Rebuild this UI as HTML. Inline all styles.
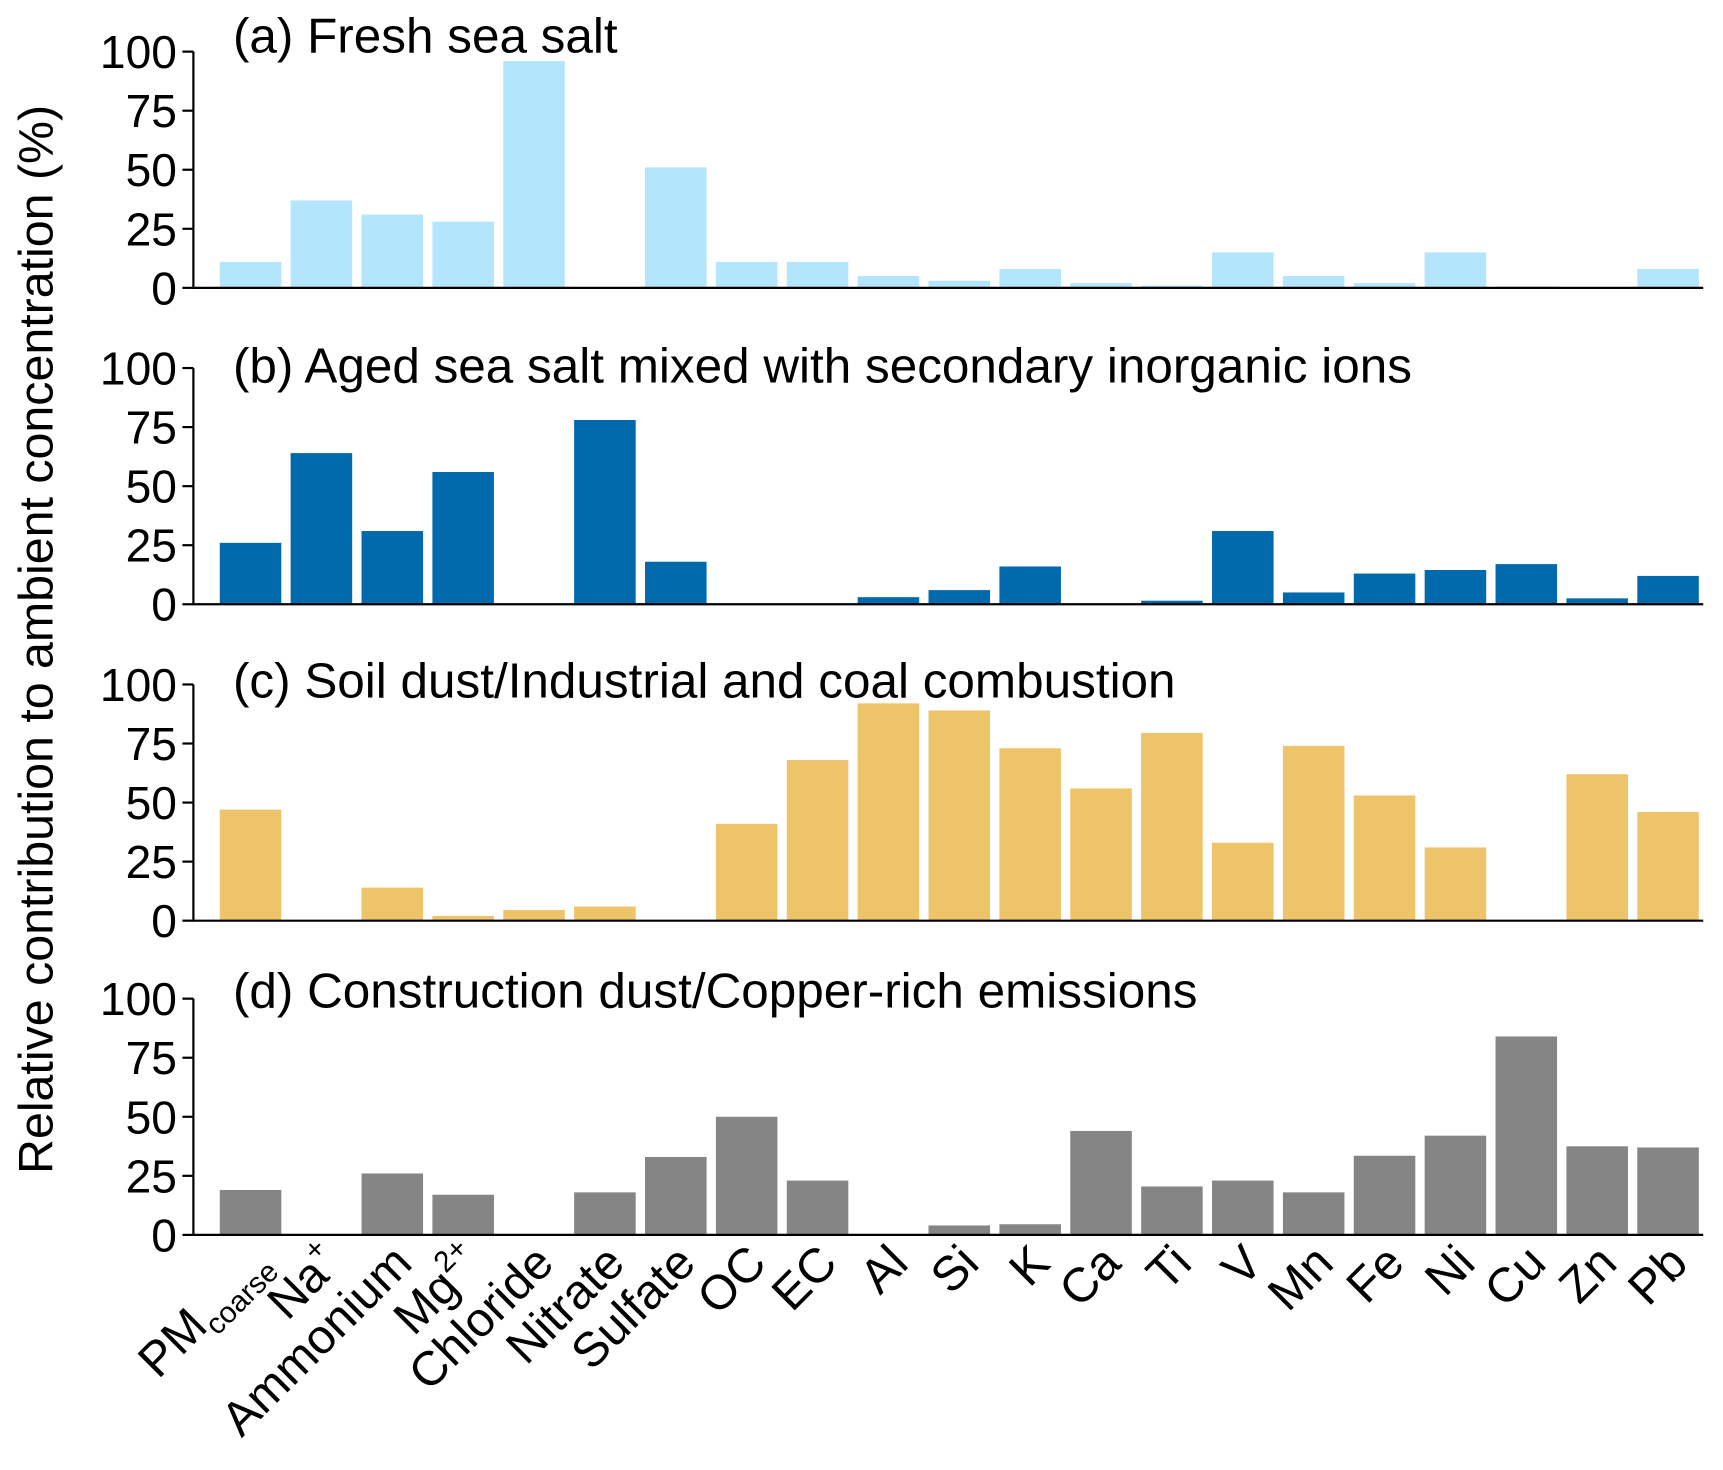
<!DOCTYPE html>
<html><head><meta charset="utf-8"><style>html,body{margin:0;padding:0;background:#fff}svg{display:block}text{font-family:"Liberation Sans",Arial,sans-serif;fill:#000}</style></head>
<body>
<svg id="chart" width="1723" height="1470" viewBox="0 0 1568 1338" preserveAspectRatio="none" xmlns="http://www.w3.org/2000/svg"></svg>
<script>
const categories=["PM","Na","Ammonium","Mg","Chloride","Nitrate","Sulfate","OC","EC","Al","Si","K","Ca","Ti","V","Mn","Fe","Ni","Cu","Zn","Pb"];
const freshSeaSalt=[11,37,31,28,96,0,51,11,11,5,3,8,2,1,15,5,2,15,0.5,0,8];
const agedSeaSalt=[26,64,31,56,0,78,18,0,0,3,6,16,0,1.5,31,5,13,14.5,17,2.5,12];
const soilDust=[47,0,14,2,4.5,6,0,41,68,92,89,73,56,79.5,33,74,53,31,0,62,46];
const constructionDust=[19,0,26,17,0,18,33,50,23,0,4,4.5,44,20.5,23,18,33.5,42,84,37.5,37];
const yTicks=[0,25,50,75,100];
const titles=["(a) Fresh sea salt","(b) Aged sea salt mixed with secondary inorganic ions","(c) Soil dust/Industrial and coal combustion","(d) Construction dust/Copper-rich emissions"];
const series=[freshSeaSalt,agedSeaSalt,soilDust,constructionDust];
const colors=["#b3e5fc","#006aad","#eec46a","#858585"];
const zeros=[262,550,838,1124];
const titleOff=[1,13,12,8];
const NS="http://www.w3.org/2000/svg";
const svg=document.getElementById('chart');
function mk(t,a,p){const e=document.createElementNS(NS,t);for(const k in a)e.setAttribute(k,a[k]);(p||svg).appendChild(e);return e;}
const xC=i=>228+i*64.5;
const bw=56;
series.forEach((vals,pi)=>{
  const y0=zeros[pi];
  const yS=v=>y0-v*2.15;
  const g=mk('g',{});
  
  
  vals.forEach((v,i)=>{
    const r=mk('rect',{x:xC(i)-bw/2,y:yS(v),width:bw,height:y0-yS(v),fill:colors[pi]},g);
    
    
  });
  const ya=mk('line',{x1:176,y1:yS(100),x2:176,y2:y0,stroke:'#000','stroke-width':2},g);
  
  
  const xa=mk('line',{x1:175,y1:y0,x2:1550,y2:y0,stroke:'#000','stroke-width':2},g);
  
  
  yTicks.forEach(t=>{
    mk('line',{x1:166,y1:yS(t),x2:176,y2:yS(t),stroke:'#000','stroke-width':2},g);
    const tx=mk('text',{x:161,y:yS(t)+15,'text-anchor':'end','font-size':42},g);
    tx.textContent=t;
    
    
  });
  const tt=mk('text',{x:212,y:yS(100)+titleOff[pi],'font-size':45},g);
  tt.textContent=titles[pi];
  
  
});
const yt=mk('text',{x:0,y:0,'font-size':44,'text-anchor':'middle',transform:'translate(48,582) rotate(-90)'});
yt.textContent='Relative contribution to ambient concentration (%)';


categories.forEach((c,i)=>{
  const t=mk('text',{x:0,y:0,'font-size':44,'text-anchor':'end',transform:`translate(${xC(i)+20},1152) rotate(-45)`});
  
  
  t.appendChild(document.createTextNode(c));
  if(c==='PM'){const s=mk('tspan',{'font-size':27,dy:10},t);s.textContent='coarse';}
  if(c==='Na'){const s=mk('tspan',{'font-size':27,dy:-20},t);s.textContent='+';}
  if(c==='Mg'){const s=mk('tspan',{'font-size':27,dy:-20},t);s.textContent='2+';}
});
</script>
</body></html>
